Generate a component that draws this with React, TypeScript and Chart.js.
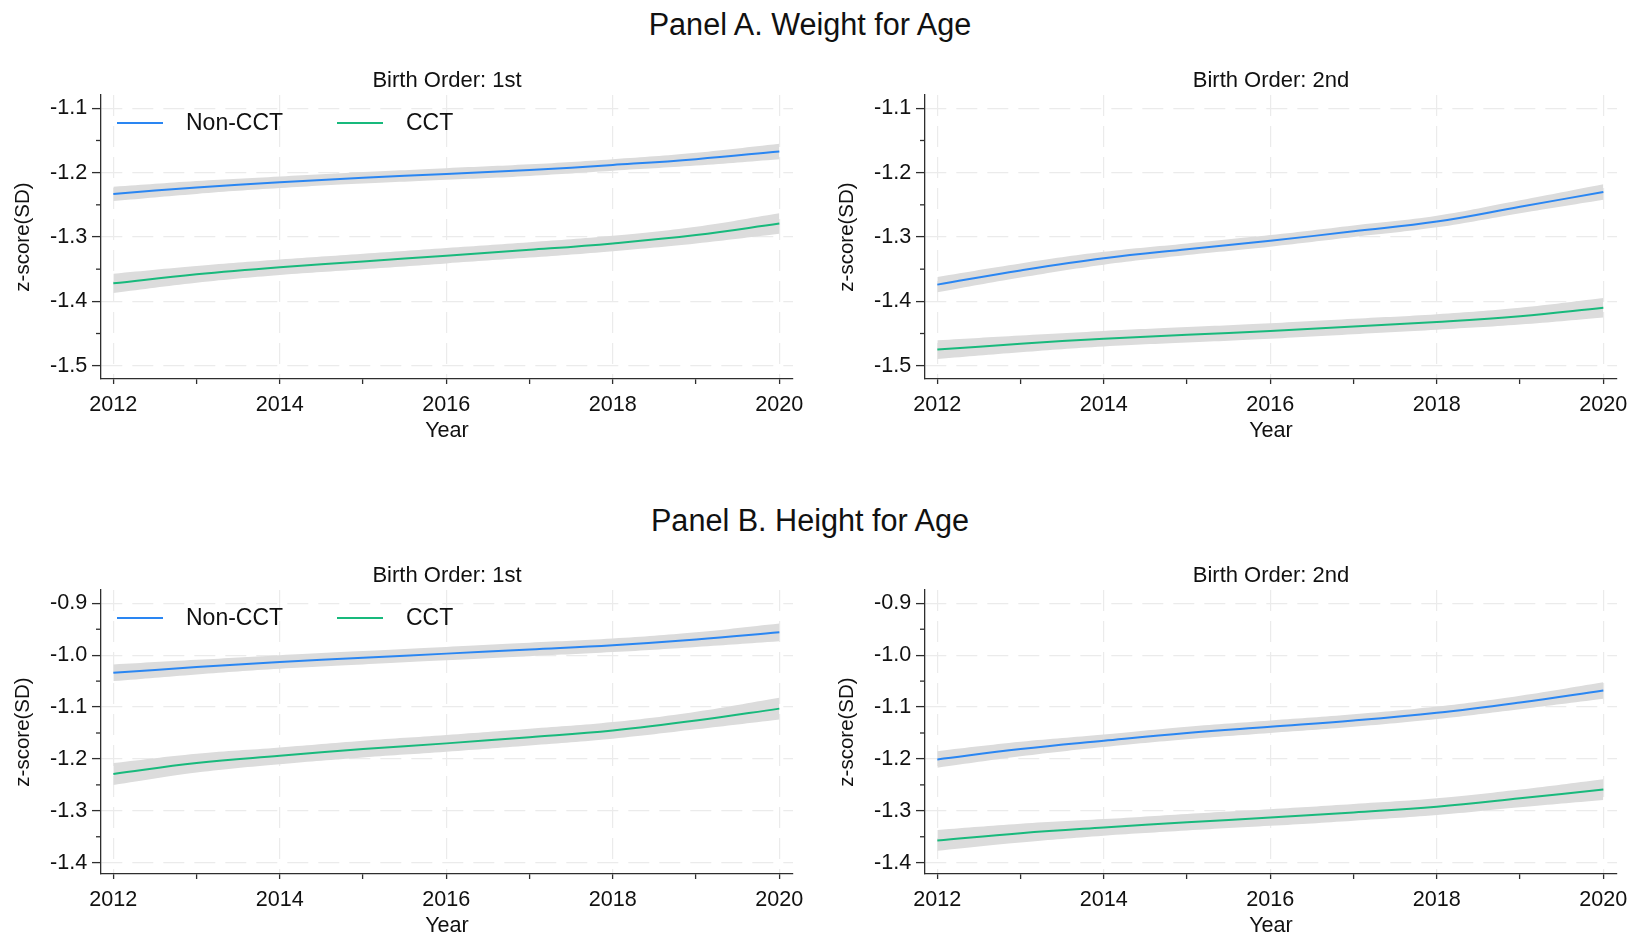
import React, { useEffect, useRef } from 'react';
import { Chart, registerables } from 'chart.js';

Chart.register(...registerables);

const FONT = '"Liberation Sans", Arial, Helvetica, sans-serif';

// ---------- data ----------
const years = [2012, 2013, 2014, 2015, 2016, 2017, 2018, 2019, 2020];
const xTickYears = [2012, 2013, 2014, 2015, 2016, 2017, 2018, 2019, 2020];
const weightTicks = [-1.5, -1.4, -1.3, -1.2, -1.1];
const weightMinor = [-1.45, -1.35, -1.25, -1.15];
const heightTicks = [-1.4, -1.3, -1.2, -1.1, -1.0, -0.9];
const heightMinor = [-1.35, -1.25, -1.15, -1.05, -0.95];

const seriesLabels = ['Non-CCT', 'CCT'];
const seriesColors = ['#2a86f2', '#18b97c'];

// Panel A, birth order 1st
const wfa1NonCCT = [-1.233, -1.223, -1.215, -1.208, -1.202, -1.196, -1.188, -1.179, -1.167];
const wfa1NonCCTLo = [-1.244, -1.233, -1.224, -1.217, -1.211, -1.205, -1.197, -1.189, -1.179];
const wfa1NonCCTHi = [-1.222, -1.213, -1.206, -1.199, -1.193, -1.187, -1.179, -1.169, -1.155];
const wfa1CCT = [-1.372, -1.358, -1.347, -1.338, -1.329, -1.32, -1.31, -1.297, -1.279];
const wfa1CCTLo = [-1.387, -1.371, -1.359, -1.35, -1.341, -1.332, -1.322, -1.31, -1.295];
const wfa1CCTHi = [-1.357, -1.345, -1.335, -1.326, -1.317, -1.308, -1.298, -1.284, -1.263];

// Panel A, birth order 2nd
const wfa2NonCCT = [-1.374, -1.352, -1.333, -1.319, -1.306, -1.291, -1.276, -1.253, -1.23];
const wfa2NonCCTLo = [-1.386, -1.363, -1.343, -1.328, -1.315, -1.3, -1.285, -1.263, -1.242];
const wfa2NonCCTHi = [-1.362, -1.341, -1.323, -1.31, -1.297, -1.282, -1.267, -1.243, -1.218];
const wfa2CCT = [-1.475, -1.466, -1.458, -1.452, -1.446, -1.439, -1.432, -1.423, -1.41];
const wfa2CCTLo = [-1.4895, -1.479, -1.47, -1.464, -1.458, -1.451, -1.444, -1.436, -1.425];
const wfa2CCTHi = [-1.4605, -1.453, -1.446, -1.44, -1.434, -1.427, -1.42, -1.41, -1.395];

// Panel B, birth order 1st
const hfa1NonCCT = [-1.034, -1.023, -1.013, -1.005, -0.997, -0.989, -0.981, -0.97, -0.956];
const hfa1NonCCTLo = [-1.05, -1.037, -1.026, -1.018, -1.01, -1.002, -0.994, -0.984, -0.973];
const hfa1NonCCTHi = [-1.018, -1.009, -1.0, -0.992, -0.984, -0.976, -0.968, -0.956, -0.939];
const hfa1CCT = [-1.229, -1.208, -1.194, -1.181, -1.17, -1.158, -1.145, -1.126, -1.103];
const hfa1CCTLo = [-1.25, -1.226, -1.21, -1.197, -1.186, -1.174, -1.161, -1.143, -1.124];
const hfa1CCTHi = [-1.208, -1.19, -1.178, -1.165, -1.154, -1.142, -1.129, -1.109, -1.082];

// Panel B, birth order 2nd
const hfa2NonCCT = [-1.201, -1.181, -1.165, -1.15, -1.138, -1.126, -1.111, -1.091, -1.068];
const hfa2NonCCTLo = [-1.217, -1.195, -1.177, -1.162, -1.15, -1.138, -1.123, -1.104, -1.084];
const hfa2NonCCTHi = [-1.185, -1.167, -1.153, -1.138, -1.126, -1.114, -1.099, -1.078, -1.052];
const hfa2CCT = [-1.357, -1.343, -1.332, -1.322, -1.313, -1.303, -1.292, -1.276, -1.259];
const hfa2CCTLo = [-1.377, -1.361, -1.348, -1.338, -1.329, -1.319, -1.308, -1.293, -1.279];
const hfa2CCTHi = [-1.337, -1.325, -1.316, -1.306, -1.297, -1.287, -1.276, -1.259, -1.239];

// ---------- styling ----------
const AXIS = '#2e2e2e';
const GRID = '#ebebeb';
const BAND = '#dcdcdc';
const TEXT = '#111111';

const X_MIN = 2011.852;
const X_MAX = 2020.164;

type Spec = {
  title: string;
  left: number;
  top: number;
  yMin: number;
  yMax: number;
  yTicks: number[];
  yMinor: number[];
  legend: boolean;
  nonCCT: number[];
  nonCCTLo: number[];
  nonCCTHi: number[];
  cct: number[];
  cctLo: number[];
  cctHi: number[];
};

const CW = 807;
const CH = 390;
const Y_W = 100;
const X_H = 66;

function pts(ys: number[]) {
  return years.map((x, i) => ({ x, y: ys[i] }));
}

function SubPlot({ spec }: { spec: Spec }) {
  const ref = useRef<HTMLCanvasElement>(null);
  useEffect(() => {
    const canvas = ref.current;
    if (!canvas) return;

    const minorTicks = {
      id: 'minorTicks',
      afterDraw(chart: any) {
        const ctx = chart.ctx;
        const ys = chart.scales.y;
        const left = chart.chartArea.left;
        ctx.save();
        ctx.strokeStyle = AXIS;
        ctx.lineWidth = 1.3;
        spec.yMinor.forEach((v) => {
          const py = ys.getPixelForValue(v);
          ctx.beginPath();
          ctx.moveTo(left - 5, py);
          ctx.lineTo(left, py);
          ctx.stroke();
        });
        ctx.restore();
      },
    };

    const insideLegend = {
      id: 'insideLegend',
      afterDraw(chart: any) {
        if (!spec.legend) return;
        const ctx = chart.ctx;
        const { left, top } = chart.chartArea;
        const y = top + 28;
        const offsets = [
          { line: 16, text: 85 },
          { line: 236, text: 305 },
        ];
        ctx.save();
        ctx.font = `23px ${FONT}`;
        ctx.textBaseline = 'middle';
        ctx.textAlign = 'left';
        seriesLabels.forEach((lab, i) => {
          ctx.strokeStyle = seriesColors[i];
          ctx.lineWidth = 2;
          ctx.beginPath();
          ctx.moveTo(left + offsets[i].line, y);
          ctx.lineTo(left + offsets[i].line + 46, y);
          ctx.stroke();
          ctx.fillStyle = TEXT;
          ctx.fillText(lab, left + offsets[i].text, y + 1);
        });
        ctx.restore();
      },
    };

    const band = (data: number[], fill: any) => ({
      data: pts(data),
      borderWidth: 0,
      pointRadius: 0,
      backgroundColor: BAND,
      borderColor: 'rgba(0,0,0,0)',
      fill,
      tension: 0.4,
    });
    const line = (label: string, data: number[], color: string) => ({
      label,
      data: pts(data),
      borderWidth: 2,
      pointRadius: 0,
      borderColor: color,
      backgroundColor: color,
      fill: false,
      tension: 0.4,
    });

    const chart = new Chart(canvas, {
      type: 'line',
      data: {
        datasets: [
          line(seriesLabels[0], spec.nonCCT, seriesColors[0]),
          line(seriesLabels[1], spec.cct, seriesColors[1]),
          band(spec.nonCCTHi, '+1'),
          band(spec.nonCCTLo, false),
          band(spec.cctHi, '+1'),
          band(spec.cctLo, false),
        ] as any,
      },
      options: {
        responsive: false,
        animation: false,
        events: [],
        layout: { padding: { left: 0, right: 15, top: 0, bottom: 0 } },
        plugins: {
          legend: { display: false },
          tooltip: { enabled: false },
          filler: { drawTime: 'beforeDatasetsDraw' },
          title: {
            display: true,
            fullSize: false,
            text: spec.title,
            color: TEXT,
            font: { family: FONT, size: 22, weight: 'normal' },
            padding: { top: 12.3, bottom: 1.3 },
          },
        },
        scales: {
          x: {
            type: 'linear',
            min: X_MIN,
            max: X_MAX,
            afterBuildTicks(scale: any) {
              scale.ticks = xTickYears.map((v) => ({ value: v }));
            },
            afterFit(scale: any) {
              scale.height = X_H;
              scale.paddingLeft = 0;
              scale.paddingRight = 0;
            },
            ticks: {
              autoSkip: false,
              maxRotation: 0,
              padding: 7.7,
              color: TEXT,
              font: { family: FONT, size: 21.6 },
              callback: (v: any) => (Math.round(v) % 2 === 0 ? String(Math.round(v)) : ''),
            },
            grid: {
              color: (c: any) =>
                c.tick && Math.round(c.tick.value) % 2 === 0 ? GRID : 'rgba(0,0,0,0)',
              lineWidth: 1.2,
              tickColor: AXIS,
              tickWidth: 1.3,
              tickLength: 5,
              drawTicks: true,
            },
            border: { display: true, color: AXIS, width: 1.3, dash: [21, 10] },
            title: {
              display: true,
              text: 'Year',
              color: TEXT,
              font: { family: FONT, size: 21.6, weight: 'normal' },
              padding: { top: 0, bottom: 1.1 },
            },
          },
          y: {
            type: 'linear',
            min: spec.yMin,
            max: spec.yMax,
            afterBuildTicks(scale: any) {
              scale.ticks = spec.yTicks.map((v) => ({ value: v }));
            },
            afterFit(scale: any) {
              scale.width = Y_W;
              scale.paddingTop = 0;
              scale.paddingBottom = 0;
            },
            ticks: {
              autoSkip: false,
              padding: 4.7,
              color: TEXT,
              font: { family: FONT, size: 21.6 },
              callback: (v: any) => Number(v).toFixed(1),
            },
            grid: {
              color: GRID,
              lineWidth: 1.2,
              tickColor: AXIS,
              tickWidth: 1.3,
              tickLength: 9,
              drawTicks: true,
            },
            border: { display: true, color: AXIS, width: 1.3, dash: [21, 10] },
            title: {
              display: true,
              text: 'z-score(SD)',
              color: TEXT,
              font: { family: FONT, size: 20.5, weight: 'normal' },
              padding: { top: 9.7, bottom: 0 },
            },
          },
        },
      } as any,
      plugins: [minorTicks, insideLegend],
    });
    return () => chart.destroy();
  }, [spec]);

  return (
    <canvas
      ref={ref}
      width={CW}
      height={CH}
      style={{ position: 'absolute', left: spec.left, top: spec.top, width: CW, height: CH }}
    />
  );
}

const specs: Spec[] = [
  {
    title: 'Birth Order: 1st', left: 1, top: 55,
    yMin: -1.5207, yMax: -1.0793, yTicks: weightTicks, yMinor: weightMinor, legend: true,
    nonCCT: wfa1NonCCT, nonCCTLo: wfa1NonCCTLo, nonCCTHi: wfa1NonCCTHi,
    cct: wfa1CCT, cctLo: wfa1CCTLo, cctHi: wfa1CCTHi,
  },
  {
    title: 'Birth Order: 2nd', left: 825, top: 55,
    yMin: -1.5207, yMax: -1.0793, yTicks: weightTicks, yMinor: weightMinor, legend: false,
    nonCCT: wfa2NonCCT, nonCCTLo: wfa2NonCCTLo, nonCCTHi: wfa2NonCCTHi,
    cct: wfa2CCT, cctLo: wfa2CCTLo, cctHi: wfa2CCTHi,
  },
  {
    title: 'Birth Order: 1st', left: 1, top: 550,
    yMin: -1.42178, yMax: -0.87436, yTicks: heightTicks, yMinor: heightMinor, legend: true,
    nonCCT: hfa1NonCCT, nonCCTLo: hfa1NonCCTLo, nonCCTHi: hfa1NonCCTHi,
    cct: hfa1CCT, cctLo: hfa1CCTLo, cctHi: hfa1CCTHi,
  },
  {
    title: 'Birth Order: 2nd', left: 825, top: 550,
    yMin: -1.42178, yMax: -0.87436, yTicks: heightTicks, yMinor: heightMinor, legend: false,
    nonCCT: hfa2NonCCT, nonCCTLo: hfa2NonCCTLo, nonCCTHi: hfa2NonCCTHi,
    cct: hfa2CCT, cctLo: hfa2CCTLo, cctHi: hfa2CCTHi,
  },
];

const panelTitleStyle = (top: number): React.CSSProperties => ({
  position: 'absolute',
  left: -6,
  top,
  width: 1632,
  height: 36,
  lineHeight: '36px',
  textAlign: 'center',
  fontFamily: FONT,
  fontSize: 30.6,
  color: TEXT,
  whiteSpace: 'nowrap',
});

export default function App() {
  return (
    <div
      style={{
        position: 'absolute',
        left: 0,
        top: 0,
        width: 1632,
        height: 939,
        overflow: 'hidden',
        background: '#ffffff',
      }}
    >
      <div style={panelTitleStyle(6)}>Panel A. Weight for Age</div>
      <div style={panelTitleStyle(502)}>Panel B. Height for Age</div>
      {specs.map((s, i) => (
        <SubPlot key={i} spec={s} />
      ))}
    </div>
  );
}
